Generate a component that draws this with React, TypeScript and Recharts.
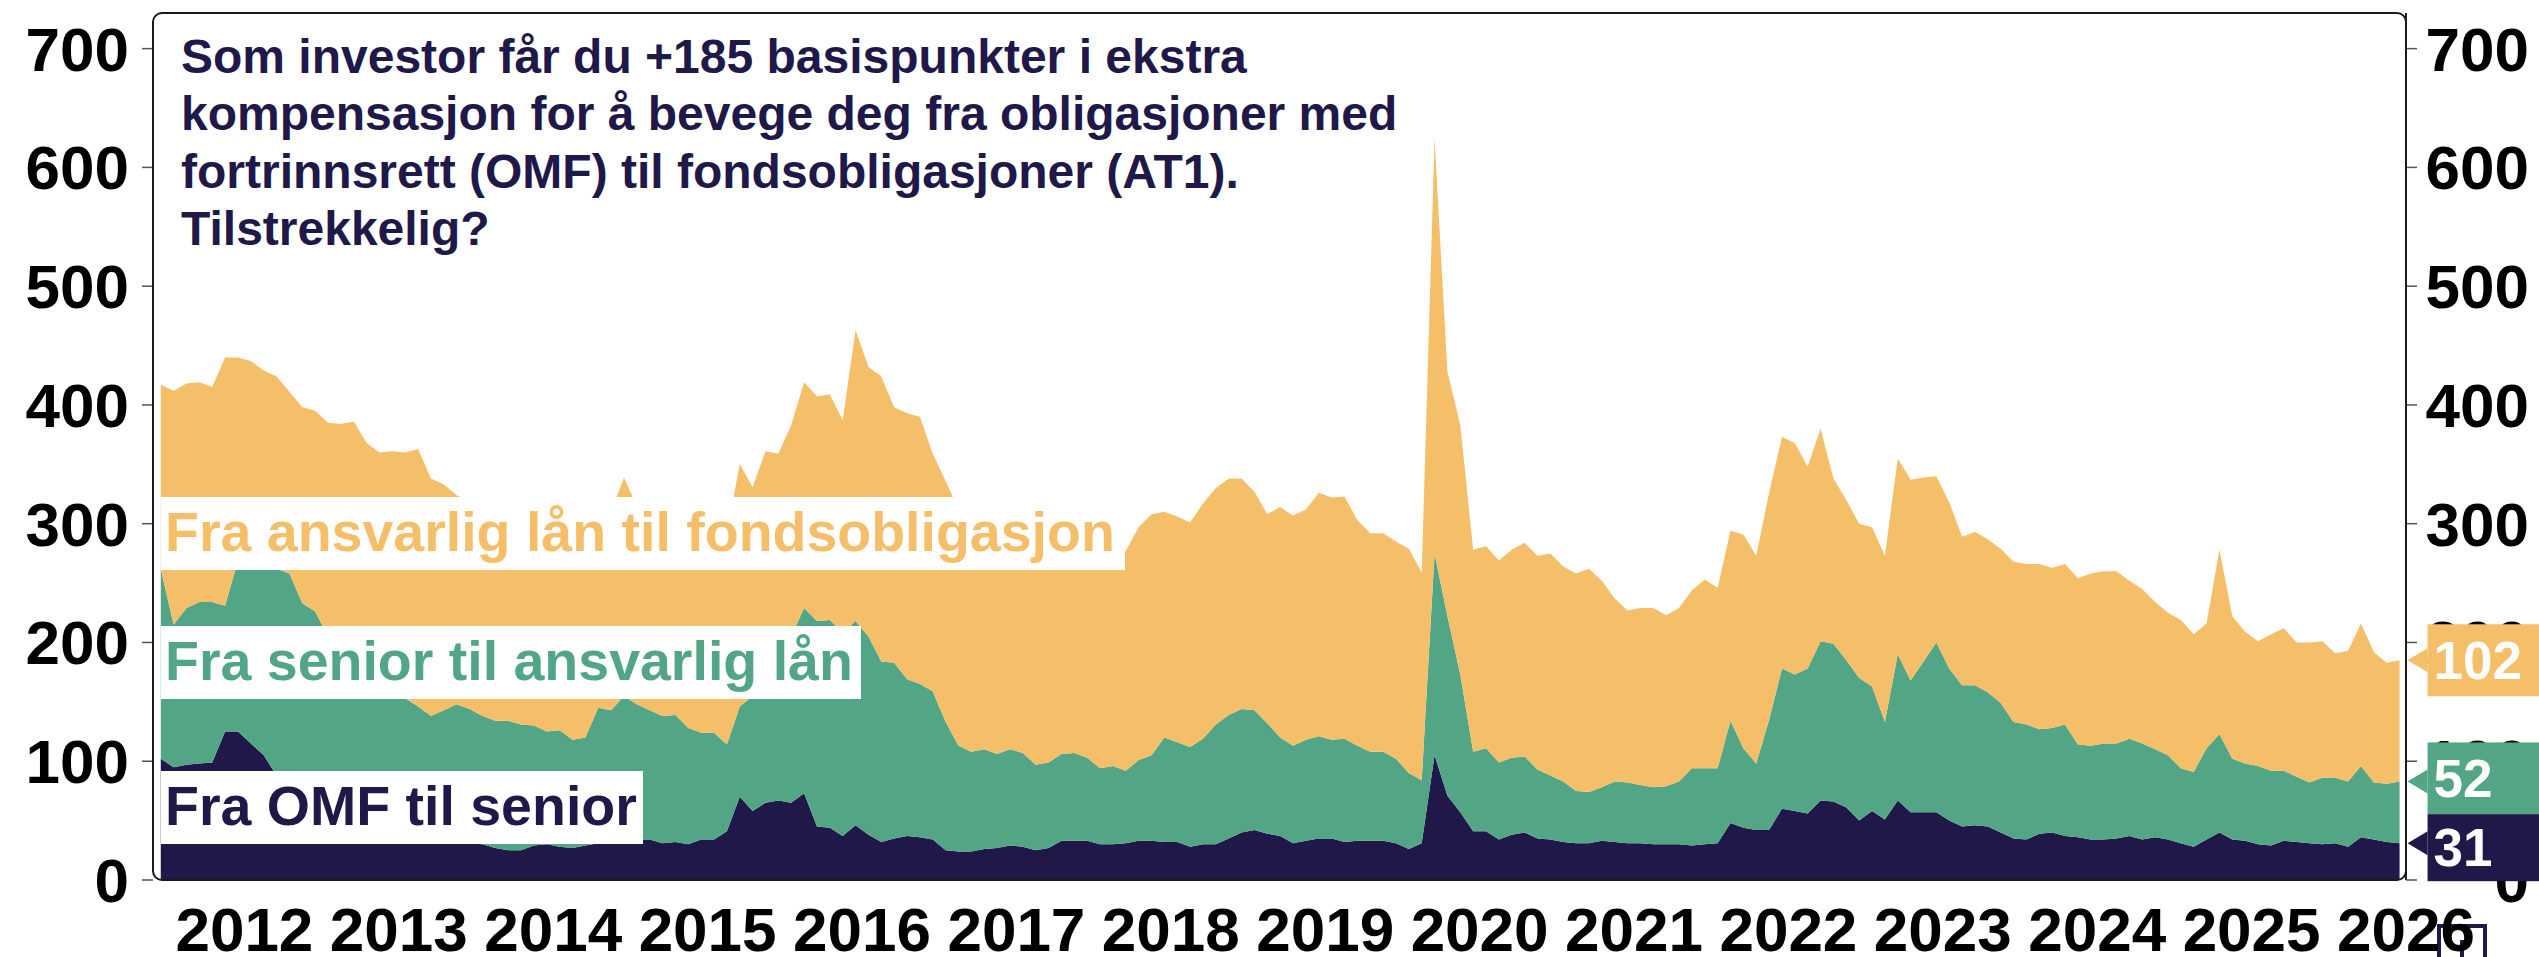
import React from 'react';
import { AreaChart, Area, XAxis, YAxis, ReferenceDot } from 'recharts';

const FONT = '"Liberation Sans", Arial, Helvetica, sans-serif';
const NAVY = '#201848';
const GREEN = '#52a685';
const YELLOW = '#f5bf6a';

// monthly observations, mid-month, starting December 2011
const START_YEAR = 2011;
const START_MONTH = 12;

// Fra OMF til senior
const omfTilSenior = [
  102, 95, 97, 98, 99, 125, 125, 115, 105, 88,
  80, 72, 64, 57, 51, 46, 42, 39, 37, 35,
  34, 33, 32, 32, 31, 30, 27, 25, 25, 29,
  30, 28, 27, 29, 31, 32, 33, 34, 34, 31,
  32, 30, 34, 34, 41, 70, 58, 65, 67, 65,
  73, 45, 44, 37, 46, 38, 32, 35, 37, 36,
  34, 25, 24, 24, 26, 27, 29, 28, 25, 27,
  33, 33, 33, 30, 30, 31, 33, 33, 32, 32,
  28, 30, 30, 35, 40, 42, 39, 37, 31, 33,
  35, 35, 32, 33, 33, 33, 31, 26, 31, 105,
  71, 57, 41, 41, 34, 38, 40, 35, 34, 32,
  31, 31, 33, 32, 31, 31, 30, 30, 30, 29,
  30, 31, 48, 44, 42, 42, 60, 58, 56, 67,
  66, 61, 50, 58, 51, 67, 57, 57, 57, 50,
  45, 46, 45, 40, 35, 34, 39, 40, 37, 36,
  34, 34, 35, 37, 34, 36, 34, 31, 28, 34,
  40, 34, 33, 30, 29, 33, 32, 31, 30, 31,
  28, 36, 34, 32, 31,
];

// Fra senior til ansvarlig lån
const seniorTilAnsvarlig = [
  160, 120, 132, 136, 135, 106, 144, 155, 160, 174,
  178, 161, 162, 148, 144, 139, 133, 126, 121, 118,
  112, 105, 111, 116, 113, 108, 107, 109, 106, 101,
  95, 98, 91, 91, 114, 111, 122, 114, 109, 107,
  107, 98, 90, 90, 73, 76, 97, 106, 119, 140,
  156, 173, 175, 171, 172, 167, 152, 148, 132, 129,
  125, 108, 89, 84, 84, 79, 81, 79, 72, 72,
  73, 74, 70, 64, 66, 61, 68, 72, 88, 84,
  84, 89, 101, 104, 104, 101, 93, 83, 82, 85,
  86, 83, 87, 80, 75, 75, 71, 64, 53, 170,
  151, 116, 67, 70, 65, 65, 64, 58, 54, 51,
  44, 43, 45, 51, 51, 49, 48, 49, 53, 65,
  64, 63, 86, 67, 56, 93, 118, 115, 122, 134,
  133, 124, 120, 105, 82, 123, 111, 127, 143, 128,
  119, 118, 113, 109, 98, 97, 88, 88, 94, 78,
  79, 81, 80, 82, 81, 74, 71, 63, 63, 77,
  83, 68, 65, 66, 63, 59, 55, 51, 56, 55,
  55, 60, 48, 49, 52,
];

// Fra ansvarlig lån til fondsobligasjon
const ansvarligTilFond = [
  155, 197, 189, 185, 181, 209, 171, 167, 164, 162,
  153, 165, 169, 180, 189, 201, 193, 195, 203, 207,
  217, 200, 190, 176, 175, 177, 178, 176, 181, 178,
  180, 181, 185, 180, 160, 167, 184, 167, 162, 163,
  159, 167, 176, 171, 179, 204, 176, 190, 173, 178,
  190, 189, 190, 179, 245, 227, 240, 215, 224, 225,
  200, 203, 199, 192, 185, 184, 182, 181, 186, 186,
  176, 172, 172, 178, 172, 185, 196, 203, 190, 190,
  189, 198, 199, 199, 194, 184, 176, 194, 194, 194,
  205, 204, 204, 190, 184, 184, 183, 189, 175, 349,
  206, 210, 170, 170, 170, 175, 180, 180, 187, 181,
  183, 188, 174, 154, 145, 149, 151, 144, 146, 150,
  159, 152, 160, 180, 175, 191, 195, 195, 170, 179,
  139, 135, 130, 134, 140, 165, 169, 155, 140, 140,
  125, 129, 129, 130, 135, 135, 139, 135, 135, 140,
  145, 145, 145, 133, 130, 124, 120, 125, 116, 105,
  155, 120, 111, 105, 115, 120, 113, 118, 115, 105,
  110, 120, 110, 102, 102,
];

const yearTicks = [2012, 2013, 2014, 2015, 2016, 2017, 2018, 2019, 2020, 2021, 2022, 2023, 2024, 2025, 2026];
const yearLabelTicks = yearTicks.map((y) => y + 0.5);
const valueTicks = [0, 100, 200, 300, 400, 500, 600, 700];

const titleLines = [
  'Som investor får du +185 basispunkter i ekstra',
  'kompensasjon for å bevege deg fra obligasjoner med',
  'fortrinnsrett (OMF) til fondsobligasjoner (AT1).',
  'Tilstrekkelig?',
];

const seriesLabels = {
  fond: 'Fra ansvarlig lån til fondsobligasjon',
  ansvarlig: 'Fra senior til ansvarlig lån',
  senior: 'Fra OMF til senior',
};

const X_DOMAIN: [number, number] = [2011.908, 2026.5];
const Y_DOMAIN: [number, number] = [0, 730];

const data = omfTilSenior.map((v, i) => ({
  t: START_YEAR + (START_MONTH - 1 + i + 0.5) / 12,
  omf: v,
  sen: seniorTilAnsvarlig[i],
  ans: ansvarligTilFond[i],
}));

const last = data[data.length - 1];

const Badge = (props: any) => {
  const { cx, cy, color, label, top, h } = props;
  if (cx == null || cy == null) return null;
  const tipX = cx + 8;
  const rx = cx + 28;
  return (
    <g>
      <polygon points={`${tipX},${cy} ${rx},${cy - 12} ${rx},${cy + 12}`} fill={color} />
      <rect x={rx} y={cy + top} width={120} height={h} fill={color} />
      <text
        x={rx + 6}
        y={cy + top + h / 2}
        dy="0.355em"
        fill="#ffffff"
        fontSize={53}
        fontWeight={700}
        fontFamily={FONT}
      >
        {label}
      </text>
    </g>
  );
};

const RightTick = (props: any) => {
  const { x, y, payload } = props;
  return (
    <text
      x={x + 101}
      y={y}
      dy="0.355em"
      textAnchor="end"
      fill="#000"
      fontSize={62}
      fontWeight={700}
      fontFamily={FONT}
    >
      {payload.value}
    </text>
  );
};

export default function App() {
  const labelBoxes = [
    { text: seriesLabels.fond, color: YELLOW, x: 161, y: 497, w: 964 },
    { text: seriesLabels.ansvarlig, color: GREEN, x: 161, y: 626, w: 700 },
    { text: seriesLabels.senior, color: NAVY, x: 161, y: 771, w: 482 },
  ];
  return (
    <div style={{ position: 'absolute', left: 0, top: 0, width: 2539, height: 957, background: '#fff', overflow: 'hidden' }}>
      <svg width={2539} height={957} style={{ position: 'absolute', left: 0, top: 0 }}>
        <rect x={2439} y={926} width={46} height={44} fill="none" stroke={NAVY} strokeWidth={4} />
        <line x1={2462} y1={940} x2={2462} y2={957} stroke={NAVY} strokeWidth={4} />
      </svg>
      <div style={{ position: 'absolute', left: 0, top: 0 }}>
        <AreaChart width={2539} height={957} data={data} margin={{ top: 13, right: 0, bottom: 0, left: 0 }}>
          <XAxis
            xAxisId="yr"
            dataKey="t"
            type="number"
            domain={X_DOMAIN}
            allowDataOverflow
            ticks={yearTicks}
            interval={0}
            tick={false}
            tickSize={10}
            height={1}
            axisLine={false}
            tickLine={{ stroke: '#444', strokeWidth: 1.5 }}
          />
          <XAxis
            xAxisId="lbl"
            dataKey="t"
            type="number"
            domain={X_DOMAIN}
            allowDataOverflow
            ticks={yearLabelTicks}
            interval={0}
            tickFormatter={(v: number) => String(Math.floor(v))}
            tickLine={false}
            axisLine={false}
            tickSize={0}
            tickMargin={27}
            height={76}
            tick={{ fill: '#000', fontSize: 62, fontWeight: 700, fontFamily: FONT }}
          />
          <YAxis
            yAxisId="l"
            orientation="left"
            domain={Y_DOMAIN}
            allowDataOverflow
            ticks={valueTicks}
            interval={0}
            width={153}
            tickSize={11}
            tickMargin={13}
            axisLine={false}
            tickLine={{ stroke: '#555', strokeWidth: 1.5 }}
            tick={{ fill: '#000', fontSize: 62, fontWeight: 700, fontFamily: FONT }}
          />
          <YAxis
            yAxisId="r"
            orientation="right"
            domain={Y_DOMAIN}
            allowDataOverflow
            ticks={valueTicks}
            interval={0}
            width={133}
            tickSize={11}
            tickMargin={11}
            axisLine={{ stroke: '#222', strokeWidth: 2 }}
            tickLine={{ stroke: '#555', strokeWidth: 1.5 }}
            tick={<RightTick />}
          />
          <Area
            xAxisId="yr"
            yAxisId="l"
            type="linear"
            dataKey="omf"
            stackId="s"
            fill={NAVY}
            fillOpacity={1}
            stroke="none"
            dot={false}
            activeDot={false}
            isAnimationActive={false}
          />
          <Area
            xAxisId="yr"
            yAxisId="l"
            type="linear"
            dataKey="sen"
            stackId="s"
            fill={GREEN}
            fillOpacity={1}
            stroke="none"
            dot={false}
            activeDot={false}
            isAnimationActive={false}
          />
          <Area
            xAxisId="yr"
            yAxisId="l"
            type="linear"
            dataKey="ans"
            stackId="s"
            fill={YELLOW}
            fillOpacity={1}
            stroke="none"
            dot={false}
            activeDot={false}
            isAnimationActive={false}
          />
        </AreaChart>
      </div>
      <svg width={2539} height={957} style={{ position: 'absolute', left: 0, top: 0, pointerEvents: 'none' }}>
        <rect x={153} y={13} width={2253} height={867} rx={9} ry={9} fill="none" stroke="#1a1a1a" strokeWidth={2} />
        {titleLines.map((line, i) => (
          <text
            key={i}
            x={181}
            y={73 + i * 57.4}
            fill={NAVY}
            fontSize={48}
            fontWeight={700}
            fontFamily={FONT}
          >
            {line}
          </text>
        ))}
        {labelBoxes.map((b, i) => (
          <g key={i}>
            <rect x={b.x} y={b.y} width={b.w} height={73} fill="#fff" />
            <text
              x={b.x + 4}
              y={b.y + 54}
              fill={b.color}
              fontSize={55.5}
              fontWeight={700}
              fontFamily={FONT}
            >
              {b.text}
            </text>
          </g>
        ))}
      </svg>
      <div style={{ position: 'absolute', left: 0, top: 0, pointerEvents: 'none' }}>
        <AreaChart width={2539} height={957} data={data} margin={{ top: 13, right: 133, bottom: 77, left: 153 }}>
          <XAxis xAxisId="yr" dataKey="t" type="number" domain={X_DOMAIN} allowDataOverflow hide />
          <YAxis yAxisId="l" domain={Y_DOMAIN} allowDataOverflow hide />
          <ReferenceDot
            xAxisId="yr"
            yAxisId="l"
            x={last.t}
            y={last.omf + last.sen + last.ans}
            r={0}
            ifOverflow="visible"
            shape={(p: any) => <Badge {...p} color={YELLOW} label={last.ans} top={-36} h={72} />}
          />
          <ReferenceDot
            xAxisId="yr"
            yAxisId="l"
            x={last.t}
            y={last.omf + last.sen}
            r={0}
            ifOverflow="visible"
            shape={(p: any) => <Badge {...p} color={GREEN} label={last.sen} top={-39} h={72} />}
          />
          <ReferenceDot
            xAxisId="yr"
            yAxisId="l"
            x={last.t}
            y={last.omf}
            r={0}
            ifOverflow="visible"
            shape={(p: any) => <Badge {...p} color={NAVY} label={last.omf} top={-29} h={67} />}
          />
        </AreaChart>
      </div>
    </div>
  );
}
